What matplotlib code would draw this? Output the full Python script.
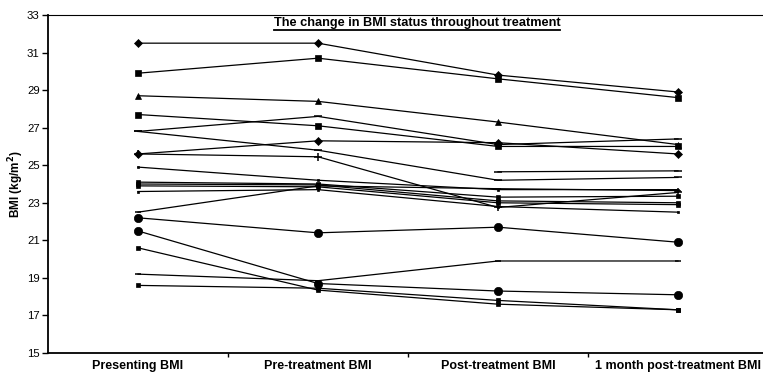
import numpy as np
import matplotlib
matplotlib.use("Agg")
import matplotlib.pyplot as plt
from matplotlib.lines import Line2D

plt.rcParams['font.family'] = ['Liberation Sans', 'DejaVu Sans']

stages = ['Presenting BMI', 'Pre-treatment BMI', 'Post-treatment BMI',
          '1 month post-treatment BMI']

# BMI per patient at each stage (nan = not recorded)
nan = np.nan
p01 = [31.5, 31.5, 29.8, 28.9]
p02 = [29.9, 30.7, 29.6, 28.6]
p03 = [28.7, 28.4, 27.3, 26.1]
p04 = [27.7, 27.1, 26.0, 26.0]
p05 = [26.8, 27.6, 26.1, 26.4]
p06 = [26.8, 25.8, 24.2, 24.35]
p07 = [25.6, 26.3, 26.2, 25.6]
p08 = [25.6, 25.45, 22.75, 23.55]
p09 = [24.9, 24.2, 23.7, 23.7]
p10 = [24.1, 24.0, 23.3, 23.35]
p11 = [24.0, 23.95, 23.1, 23.0]
p12 = [23.9, 23.85, 23.0, 22.9]
p13 = [23.6, 23.7, 22.8, 22.5]
p14 = [22.5, 23.9, 23.75, 23.65]
p15 = [22.2, 21.4, 21.7, 20.9]
p16 = [21.5, 18.7, 18.3, 18.1]
p17 = [20.6, 18.35, 17.6, 17.3]
p18 = [19.2, 18.85, 19.9, 19.9]
p19 = [18.6, 18.45, 17.8, 17.3]
p20 = [nan, nan, 24.65, 24.7]

patients = [p01, p02, p03, p04, p05, p06, p07, p08, p09, p10,
            p11, p12, p13, p14, p15, p16, p17, p18, p19, p20]
markers = ['D', 's', '^', 's', '_', '_', 'D', '+', 's', 's',
           's', 's', 's', '_', 'o', 'o', 's', '_', 's', '_']
msizes = [4, 4.5, 5, 4, 6, 6, 4.5, 6, 2, 2.5,
          3, 3, 2, 5, 6, 6, 2.5, 5, 2.5, 6]

fig = plt.figure(figsize=(7.63, 3.72), dpi=100)
ax = fig.add_axes([48 / 763, 1 - 353 / 372, 720 / 763, 338 / 372])

x = np.arange(len(stages))
for vals, m, ms in zip(patients, markers, msizes):
    ax.plot(x, vals, color='black', lw=0.9, marker=m, markersize=ms,
            markeredgewidth=1.1 if m in ('_', '+') else 0.5,
            markerfacecolor='black', markeredgecolor='black')

ax.set_xlim(-0.5, 3.5)
ax.set_ylim(15, 33)
ax.set_yticks(np.arange(15, 34, 2))
ax.tick_params(axis='y', labelsize=8.2, length=4, width=1, direction='out', pad=2)

ax.set_xticks([0.5, 1.5, 2.5])
ax.set_xticklabels([])
ax.tick_params(axis='x', which='major', length=3, width=1, direction='out')
ax.set_xticks(x, minor=True)
ax.set_xticklabels(stages, minor=True, fontsize=9, fontweight='bold')
ax.tick_params(axis='x', which='minor', length=0, pad=5)

ax.spines['right'].set_visible(False)
ax.spines['left'].set_linewidth(1.3)
ax.spines['bottom'].set_linewidth(1.3)
ax.spines['top'].set_linewidth(0.8)

ax.set_ylabel(r'BMI (kg/m$^{\mathbf{2}}$)', fontsize=8.5, fontweight='bold',
              labelpad=1)

title = ax.text(1.55, 32.55, 'The change in BMI status throughout treatment',
                ha='center', va='center', fontsize=9.2, fontweight='bold')

# underline the title
fig.canvas.draw()
bb = title.get_window_extent().transformed(fig.transFigure.inverted())
fig.add_artist(Line2D([bb.x0, bb.x1], [bb.y0 - 0.002, bb.y0 - 0.002],
                      color='black', lw=1.3, transform=fig.transFigure))

fig.savefig('out.png', dpi=100)
